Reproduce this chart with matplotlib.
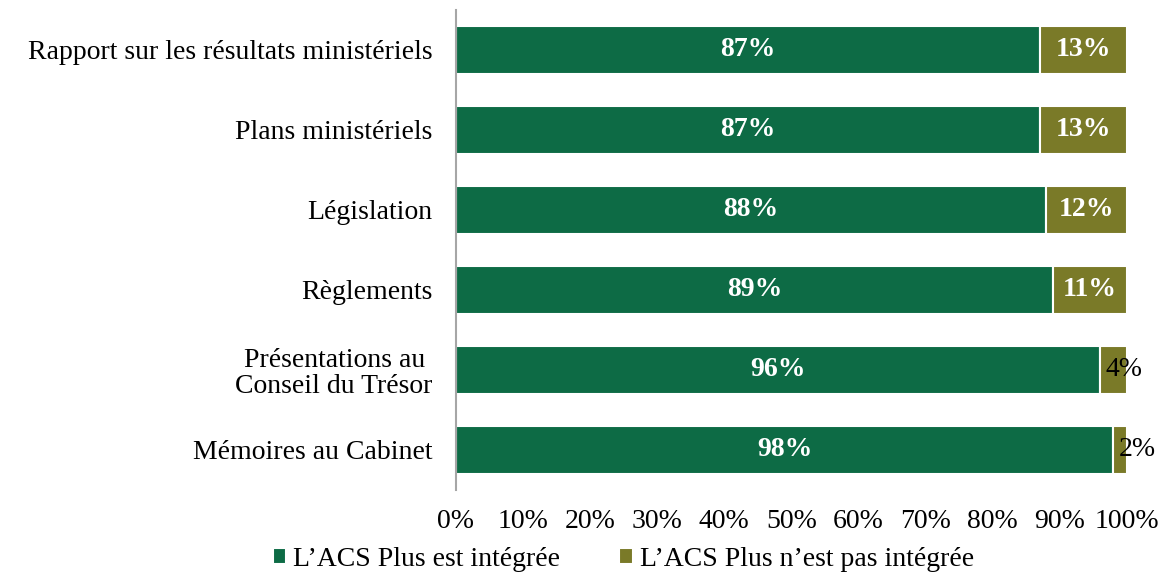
import matplotlib.pyplot as plt
import numpy as np

plt.rcParams['font.family'] = ['Liberation Serif', 'DejaVu Serif']

# ------------------ données ------------------
categories = [
    "Rapport sur les résultats ministériels",
    "Plans ministériels",
    "Législation",
    "Règlements",
    "Présentations au \nConseil du Trésor",
    "Mémoires au Cabinet",
]
integree = [87, 87, 88, 89, 96, 98]
non_integree = [13, 13, 12, 11, 4, 2]
series_names = ["L’ACS Plus est intégrée", "L’ACS Plus n’est pas intégrée"]
xticks = [0, 10, 20, 30, 40, 50, 60, 70, 80, 90, 100]

green = '#0D6B45'
olive = '#7A7A28'
fs = 20

fig = plt.figure(figsize=(11.69, 5.77), dpi=100)
ax = fig.add_axes([0.390, 0.151, 0.574, 0.832])

y = np.arange(len(categories))
b1 = ax.barh(y, integree, height=0.6, color=green, edgecolor='white',
             linewidth=1.5, label=series_names[0])
b2 = ax.barh(y, non_integree, left=integree, height=0.6, color=olive,
             edgecolor='white', linewidth=1.5, label=series_names[1])

for i in range(len(categories)):
    ax.text(integree[i] / 2, y[i], f"{integree[i]}%", ha='center', va='center',
            color='white', fontsize=fs, fontweight='bold')
    if non_integree[i] >= 10:
        ax.text(integree[i] + non_integree[i] / 2, y[i], f"{non_integree[i]}%",
                ha='center', va='center', color='white', fontsize=fs,
                fontweight='bold')
    else:
        # petites valeurs : texte noir qui déborde à droite
        ax.text(integree[i] + 0.8, y[i], f"{non_integree[i]}%", ha='left',
                va='center', color='black', fontsize=fs)

ax.set_xlim(0, 100)
ax.set_ylim(len(categories) - 0.5, -0.5)
ax.set_yticks(y)
ax.set_yticklabels(categories, fontsize=fs, ha='right', linespacing=1.05)
ax.set_xticks(xticks)
ax.set_xticklabels([f"{t}%" for t in xticks], fontsize=fs)
ax.tick_params(axis='both', length=0)
ax.tick_params(axis='y', pad=17)
ax.tick_params(axis='x', pad=14)

for s in ['top', 'right', 'bottom']:
    ax.spines[s].set_visible(False)
ax.spines['left'].set_color('#A6A6A6')
ax.spines['left'].set_linewidth(1.5)

fig.legend(handles=[b1, b2], loc='center', bbox_to_anchor=(0.533, 0.030),
           ncol=2, frameon=False, fontsize=fs, handlelength=0.5,
           handleheight=0.5, handletextpad=0.25, columnspacing=2.1,
           borderpad=0.2)

fig.savefig('out.png', dpi=100)
